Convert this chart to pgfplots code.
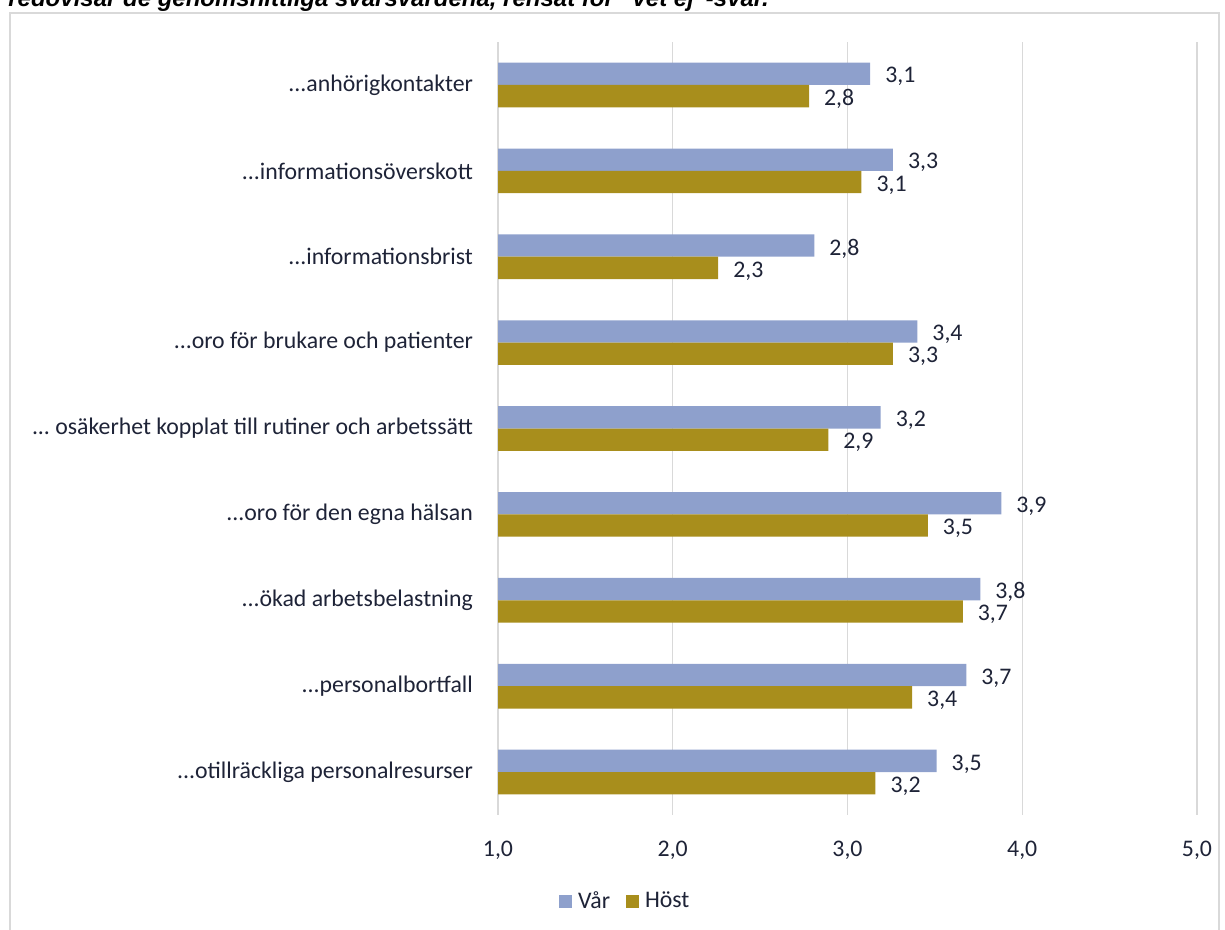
\documentclass[border=0pt]{standalone}
\usepackage{pgfplots}
\pgfplotsset{compat=1.18}
\usepackage{fontspec}
\setmainfont{Carlito}
\newfontfamily\titlefont{Liberation Sans}

\definecolor{var}{RGB}{142,160,204}
\definecolor{host}{RGB}{168,142,28}
\definecolor{txt}{RGB}{30,35,55}
\definecolor{gridc}{RGB}{217,217,217}

\newcommand{\dd}{.{}.{}.}
\newcommand{\lblfont}{\fontsize{11.9}{14}\selectfont}

\begin{document}
\begin{tikzpicture}[x=0.5pt,y=-0.5pt]
\useasboundingbox (0,0) rectangle (1225,930);
% frame and the cut title
\draw[gridc, line width=0.6pt] (10,932) -- (10,13) -- (1219,13) -- (1219,932);
\node[anchor=base west, inner sep=0pt, font=\titlefont\fontsize{12}{14}\selectfont\bfseries\itshape]
  at (8,7) {redovisar de genomsnittliga svarsvärdena, rensat för ”vet ej”-svar.};
\coordinate (origin) at (498,815);

\begin{axis}[
    at={(origin)}, anchor=south west,
    scale only axis,
    width=349.5pt, height=386.5pt,
    xmin=1, xmax=5,
    ymin=-0.5, ymax=8.5,
    y dir=reverse,
    xbar, bar width=0.26,
    axis line style={draw=none},
    major tick length=0pt,
    xmajorgrids, grid style={gridc, line width=0.6pt},
    xtick={1,2,3,4,5},
    xticklabels={{1,0},{2,0},{3,0},{4,0},{5,0}},
    xticklabel style={font=\lblfont, text=txt, yshift=-9.5pt},
    ytick={0,1,2,3,4,5,6,7,8},
    yticklabels={{\dd anhörigkontakter},{\dd informationsöverskott},{\dd informationsbrist},{\dd oro för brukare och patienter},{\dd\ osäkerhet kopplat till rutiner och arbetssätt},{\dd oro för den egna hälsan},{\dd ökad arbetsbelastning},{\dd personalbortfall},{\dd otillräckliga personalresurser}},
    yticklabel style={font=\lblfont, text=txt, xshift=-9pt},
    point meta=x,
    nodes near coords={\pgfmathprintnumber[fixed,fixed zerofill,precision=1,use comma,assume math mode=true]{\pgfplotspointmeta}},
    every node near coord/.append style={font=\lblfont, text=txt, anchor=west, xshift=4pt, yshift=-1.5pt},
    legend style={at={(axis description cs:0.185,-0.112)}, anchor=center, draw=none,
        legend columns=2, font=\lblfont, text=txt,
        nodes={inner sep=3pt},
        /tikz/every even column/.append style={column sep=5pt}},
    legend image code/.code={\fill[#1] (0pt,-3.25pt) rectangle (6.5pt,3.25pt);},
]
\addplot[fill=var, draw=none, bar shift=-0.13] coordinates {
    (3.13,0) (3.26,1) (2.81,2) (3.40,3) (3.19,4) (3.88,5) (3.76,6) (3.68,7) (3.51,8)
};
\addplot[fill=host, draw=none, bar shift=0.13] coordinates {
    (2.78,0) (3.08,1) (2.26,2) (3.26,3) (2.89,4) (3.46,5) (3.66,6) (3.37,7) (3.16,8)
};
\legend{Vår, Höst}
\end{axis}
\end{tikzpicture}
\end{document}
